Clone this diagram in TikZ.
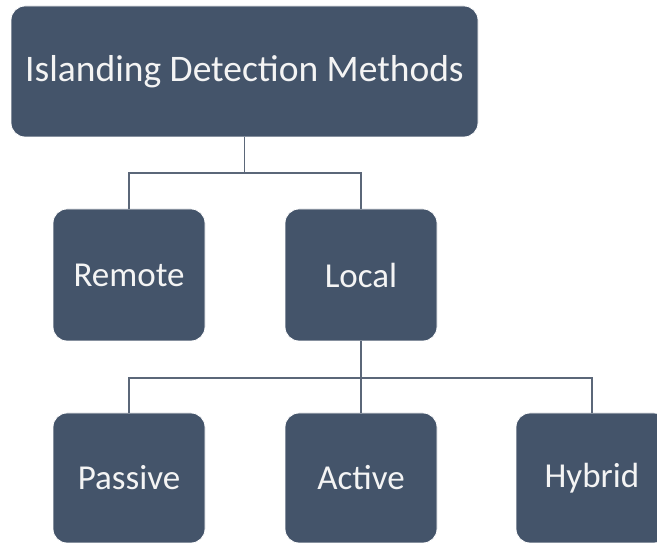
\documentclass[tikz,border=0pt]{standalone}
\usepackage{fontspec}
\setmainfont{Carlito}
\definecolor{boxfill}{HTML}{44546A}
\definecolor{linkcol}{HTML}{5B6779}
\definecolor{boxtext}{HTML}{F4F4F4}
\tikzset{
  treebox/.style={draw=white, line width=0.8pt, fill=boxfill, rounded corners=14pt,
    text=boxtext, font=\fontsize{35}{42}\selectfont, inner sep=0pt,
    minimum width=152pt, minimum height=132pt},
  link/.style={draw=linkcol, line width=1.8pt}
}
\begin{document}
\begin{tikzpicture}[x=1pt,y=1pt]
  \useasboundingbox (0,0) rectangle (657,544);
  \clip (0,0) rectangle (657,544);
  \fill[white] (0,0) rectangle (657,544);
  % root
  \node[treebox, minimum width=467pt, minimum height=131pt,
        font=\fontsize{37.5}{45}\selectfont] (root) at (244.5,472.5) {Islanding Detection Methods};
  % second level
  \node[treebox] (remote) at (129,269) {Remote};
  \node[treebox] (local) at (361,269) {Local};
  % third level
  \node[treebox, minimum height=130pt] (passive) at (129,66) {Passive};
  \node[treebox, minimum height=130pt] (active) at (361,66) {Active};
  \node[treebox, minimum height=130pt] (hybrid) at (592,66) {Hybrid};
  % junctions of the elbow connectors
  \coordinate (j1) at (244.5,371);
  \coordinate (j2) at (361,166);
  \draw[link] (root.south) -- (j1) -| (remote.north);
  \draw[link] (j1) -| (local.north);
  \draw[link] (local.south) -- (j2) -| (passive.north);
  \draw[link] (j2) -- (active.north);
  \draw[link] (j2) -| (hybrid.north);
\end{tikzpicture}
\end{document}
